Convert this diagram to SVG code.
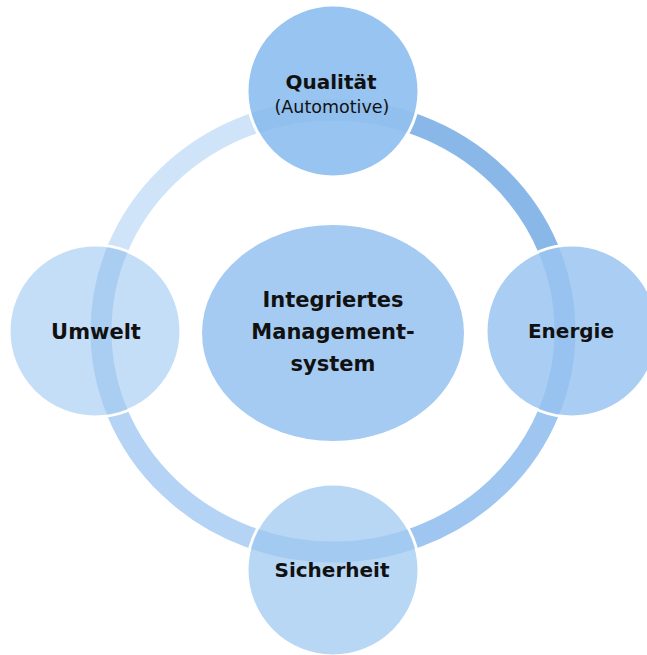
<svg xmlns="http://www.w3.org/2000/svg" width="647" height="655" viewBox="0 0 647 655">
  <style>
    .arc { fill: none; stroke-width: 21; }
    .node { stroke: #ffffff; stroke-width: 3; }
    .band { fill: none; stroke: #4E97E0; stroke-width: 21; }
    .t { font-family: "DejaVu Sans", "Liberation Sans", sans-serif; font-weight: bold; fill: #111111; text-anchor: middle; }
    .s { font-family: "DejaVu Sans", "Liberation Sans", sans-serif; fill: #111111; text-anchor: middle; }
  </style>
  <defs>
    <clipPath id="cQ"><circle cx="333" cy="91" r="85"/></clipPath>
    <clipPath id="cU"><circle cx="95" cy="331" r="85"/></clipPath>
    <clipPath id="cE"><circle cx="572" cy="331" r="85"/></clipPath>
    <clipPath id="cS"><circle cx="333" cy="570" r="85"/></clipPath>
  </defs>
  <rect width="647" height="655" fill="#ffffff"/>

  <g id="connectors">
    <path class="arc" stroke="#CFE3F9" d="M101,331 A232,221 0 0 1 333,110"/>
    <path class="arc" stroke="#89B8E8" d="M333,110 A232,221 0 0 1 565,331"/>
    <path class="arc" stroke="#9FC6F0" d="M565,331 A232,221 0 0 1 333,552"/>
    <path class="arc" stroke="#B4D3F5" d="M333,552 A232,221 0 0 1 101,331"/>
  </g>

  <g id="center">
    <ellipse cx="333" cy="333" rx="131" ry="108" fill="#A6CBF2"/>
    <text class="t" font-size="21" x="333" y="307">Integriertes</text>
    <text class="t" font-size="21" x="333" y="339">Management-</text>
    <text class="t" font-size="21" x="333" y="371">system</text>
  </g>

  <g id="qualitaet">
    <circle class="node" cx="333" cy="91" r="86" fill="#97C4F0"/>
    <ellipse class="band" cx="333" cy="331" rx="232" ry="221" clip-path="url(#cQ)" stroke-opacity="0.08"/>
    <text class="t" font-size="20" x="331" y="89">Qualität</text>
    <text class="s" font-size="17.5" x="332" y="113">(Automotive)</text>
  </g>

  <g id="umwelt">
    <circle class="node" cx="95" cy="331" r="86" fill="#C5DEF7"/>
    <ellipse class="band" cx="333" cy="331" rx="232" ry="221" clip-path="url(#cU)" stroke-opacity="0.22"/>
    <text class="t" font-size="21" x="96" y="339">Umwelt</text>
  </g>

  <g id="energie">
    <circle class="node" cx="572" cy="331" r="86" fill="#AACEF3"/>
    <ellipse class="band" cx="333" cy="331" rx="232" ry="221" clip-path="url(#cE)" stroke-opacity="0.2"/>
    <text class="t" font-size="20" x="571" y="338">Energie</text>
  </g>

  <g id="sicherheit">
    <circle class="node" cx="333" cy="570" r="86" fill="#B8D7F5"/>
    <ellipse class="band" cx="333" cy="331" rx="232" ry="221" clip-path="url(#cS)" stroke-opacity="0.2"/>
    <text class="t" font-size="20" x="332" y="577">Sicherheit</text>
  </g>
</svg>
